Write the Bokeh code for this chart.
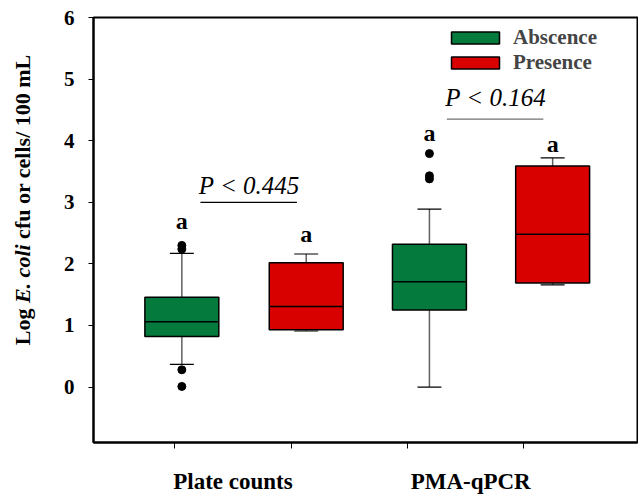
from bokeh.plotting import figure
from bokeh.models import (ColumnDataSource, Range1d, FixedTicker, Legend, LegendItem, LinearAxis, Div)
from bokeh.layouts import row
from bokeh.core.properties import value
from bokeh.embed import file_html
from bokeh.resources import INLINE

# ---- data ----
methods = ["Plate counts", "PMA-qPCR"]
conditions = ["Abscence", "Presence"]
box_pos = [1.06, 2.13, 3.19, 4.25]
box_cond = ["Abscence", "Presence", "Abscence", "Presence"]
q1 = [0.82, 0.93, 1.25, 1.69]
median = [1.06, 1.31, 1.71, 2.48]
q3 = [1.46, 2.02, 2.32, 3.59]
lower = [0.37, 0.91, 0.0, 1.66]
upper = [2.17, 2.16, 2.89, 3.72]
out_pos = [1.06, 1.06, 1.06, 1.06, 3.19, 3.19, 3.19]
out_val = [2.24, 2.30, 0.28, 0.01, 3.79, 3.43, 3.38]
letters = ["a", "a", "a", "a"]
letter_y = [2.70, 2.48, 4.12, 3.95]
p_texts = ["P < 0.445", "P < 0.164"]
p_x = [1.64, 3.76]
p_y = [3.28, 4.70]
p_line_x0 = [1.22, 3.34]
p_line_x1 = [2.05, 4.17]
p_line_y = [3.00, 4.35]
p_line_col = ["black", "#707070"]
cat_x = [1.5, 3.545]
y_ticks = [0, 1, 2, 3, 4, 5, 6]

GREEN = "#047A3C"
RED = "#D90000"
colors = [GREEN if c == "Abscence" else RED for c in box_cond]

FONT = "Liberation Serif"

p = figure(width=598, height=497, output_backend="svg", toolbar_location=None,
           x_range=Range1d(0.3, 4.98), y_range=Range1d(-0.9, 6.0),
           min_border_left=53, min_border_top=17, min_border_right=1, min_border_bottom=55)
p.xgrid.visible = False
p.ygrid.visible = False
p.outline_line_color = "black"
p.outline_line_width = 2
p.background_fill_color = "white"
p.border_fill_color = "white"

# y axis
p.yaxis.ticker = FixedTicker(ticks=y_ticks)
p.yaxis.axis_line_width = 2
p.yaxis.major_tick_out = 5
p.yaxis.major_tick_in = 0
p.yaxis.minor_tick_line_color = None
p.yaxis.major_label_text_font = FONT
p.yaxis.major_label_text_font_style = "bold"
p.yaxis.major_label_text_font_size = "21px"
p.yaxis.major_label_text_color = "black"
p.yaxis.major_label_standoff = 14

# x axis (tick marks only)
p.xaxis.ticker = FixedTicker(ticks=[1, 2, 3, 4])
p.xaxis.major_label_overrides = {1: "", 2: "", 3: "", 4: ""}
p.xaxis.major_label_text_font_size = "1px"
p.xaxis.major_label_standoff = 0
p.xaxis.axis_line_width = 2
p.xaxis.major_tick_out = 6
p.xaxis.major_tick_in = 0
p.xaxis.minor_tick_line_color = None

# category label axis
cat_axis = LinearAxis(ticker=FixedTicker(ticks=cat_x),
                      major_label_overrides={cx: m for cx, m in zip(cat_x, methods)},
                      axis_line_color=None, major_tick_line_color=None, minor_tick_line_color=None,
                      major_label_text_font=FONT, major_label_text_font_style="bold",
                      major_label_text_font_size="23px", major_label_text_color="black",
                      major_label_standoff=14)
p.add_layout(cat_axis, "below")

src = ColumnDataSource(dict(x=box_pos, q1=q1, q3=q3, med=median, lo=lower, hi=upper,
                            cap_l=[x - 0.103 for x in box_pos], cap_r=[x + 0.103 for x in box_pos],
                            bl=[x - 0.318 for x in box_pos], br=[x + 0.318 for x in box_pos]))

# whiskers
p.segment(x0="x", y0="q3", x1="x", y1="hi", source=src, line_color="#606060", line_width=1.5)
p.segment(x0="x", y0="lo", x1="x", y1="q1", source=src, line_color="#606060", line_width=1.5)
p.segment(x0="cap_l", y0="hi", x1="cap_r", y1="hi", source=src, line_color="black", line_width=1.2)
p.segment(x0="cap_l", y0="lo", x1="cap_r", y1="lo", source=src, line_color="black", line_width=1.2)

# boxes per condition (for legend)
legend_items = []
for cond in conditions:
    idx = [i for i, c in enumerate(box_cond) if c == cond]
    s = ColumnDataSource(dict(x=[box_pos[i] for i in idx], q1=[q1[i] for i in idx],
                              q3=[q3[i] for i in idx], color=[colors[i] for i in idx]))
    r = p.vbar(x="x", bottom="q1", top="q3", width=0.636, source=s,
               fill_color="color", line_color="black", line_width=1.5)
    legend_items.append(LegendItem(label=cond, renderers=[r]))

# medians
p.segment(x0="bl", y0="med", x1="br", y1="med", source=src, line_color="black", line_width=1.5)

# outliers
p.scatter(out_pos, out_val, size=8, color="black")

# letters
p.text(x=box_pos, y=letter_y, text=letters, text_font=value(FONT), text_font_style="bold",
       text_font_size="24px", text_align="center", text_baseline="middle", text_color="black")

# p-values
p.text(x=p_x, y=p_y, text=p_texts, text_font=value(FONT), text_font_style="italic",
       text_font_size="25px", text_align="center", text_baseline="middle", text_color="black")
p.segment(x0=p_line_x0, y0=p_line_y, x1=p_line_x1, y1=p_line_y, line_color=p_line_col, line_width=1.2)

legend = Legend(items=legend_items, location=(352, 367), orientation="vertical",
                glyph_width=60, glyph_height=15, label_height=20, spacing=0,
                label_standoff=8, padding=0, margin=0,
                border_line_color=None, background_fill_alpha=0,
                label_text_font=FONT, label_text_font_style="bold", label_text_font_size="21px")
p.add_layout(legend, "center")

# y axis title (mixed bold / bold-italic), rotated
ylab_html = (
    '<div style="position:relative;width:40px;height:497px;">'
    '<div style="position:absolute;left:23px;top:200px;white-space:nowrap;'
    'transform:translate(-50%,-50%) rotate(-90deg);'
    "font-family:'Liberation Serif';font-weight:bold;font-size:22px;color:black;\">"
    'Log <i>E. coli</i> cfu or cells/ 100 mL</div></div>'
)
ylab = Div(text=ylab_html, width=40, height=497, margin=0)

layout = row(ylab, p, spacing=0)
open("out.html", "w").write(file_html(layout, INLINE))
